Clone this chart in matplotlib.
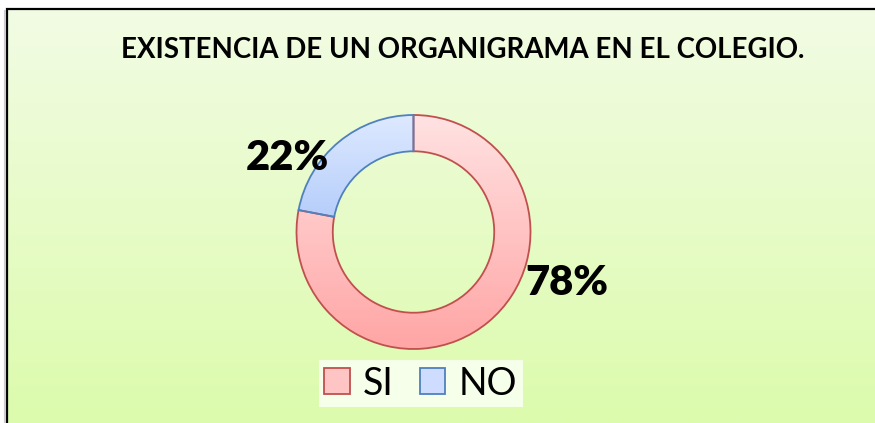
import numpy as np
import matplotlib
matplotlib.use("Agg")
import matplotlib.pyplot as plt
from matplotlib.patches import Patch
from matplotlib.colors import LinearSegmentedColormap

# ---- data ----
categories = ["SI", "NO"]
values = [78, 22]
label_texts = ["78%", "22%"]
title = "EXISTENCIA DE UN ORGANIGRAMA EN EL COLEGIO."

# ---- style ----
edge_colors = ["#c0504d", "#4f81bd"]
grad_top = ["#ffe2e2", "#dde9ff"]
grad_bot = ["#ffa5a5", "#b6cefb"]
W, H = 875, 423

fig = plt.figure(figsize=(W / 100, H / 100), dpi=100)
fig.patch.set_facecolor("white")
ax = fig.add_axes([0, 0, 1, 1])
ax.set_xlim(0, W)
ax.set_ylim(0, H)
ax.axis("off")

# chart area background gradient
bg = LinearSegmentedColormap.from_list("bg", ["#dcfcac", "#f2fbe4"])
grad = np.linspace(0, 1, 256).reshape(-1, 1)
ax.imshow(grad, cmap=bg, origin="lower", extent=[7, W, 0, H - 9],
          aspect="auto", zorder=0)
ax.plot([7, 7, W], [0, H - 9, H - 9], color="black", lw=1.6, zorder=1,
        solid_joinstyle="miter")
ax.plot([4.5, 4.5], [0, H - 11], color="#cccccc", lw=1.5, zorder=1)

# donut
cx, cy, R = 413.5, H - 232, 117
wedges, _ = ax.pie(values, startangle=90, counterclock=False,
                   center=(cx, cy), radius=R, frame=True,
                   wedgeprops=dict(width=R * 0.31, linewidth=1.3))
for i, w in enumerate(wedges):
    w.set_edgecolor(edge_colors[i])
    w.set_facecolor("none")
    w.set_zorder(4)
    cm = LinearSegmentedColormap.from_list("g%d" % i, [grad_bot[i], grad_top[i]])
    th1, th2 = w.theta1, w.theta2
    ang = np.radians(np.linspace(th1, th2, 200))
    ys = np.concatenate([cy + R * np.sin(ang), cy + (R * 0.69) * np.sin(ang)])
    y0, y1 = ys.min(), ys.max()
    im = ax.imshow(grad, cmap=cm, origin="lower",
                   extent=[cx - R - 2, cx + R + 2, y0, y1],
                   aspect="auto", zorder=3)
    im.set_clip_path(w)

ax.set_xlim(0, W)
ax.set_ylim(0, H)
ax.set_aspect("auto")
ax.axis("off")

# data labels
label_pos = [(567, H - 283), (287, H - 158)]
for t, (x, y) in zip(label_texts, label_pos):
    ax.text(x, y, t, ha="center", va="center", fontsize=30,
            fontweight="heavy", family="Lato", zorder=5)

# title
ax.text(463, H - 50, title, ha="center", va="center", fontsize=19.9,
        fontweight="bold", family="Lato", zorder=5)

# legend
handles = [Patch(facecolor=c, edgecolor=e, linewidth=1.3)
           for c, e in zip(["#ffc4c4", "#cddcff"], edge_colors)]
leg = fig.legend(handles, categories, loc="center",
                 bbox_to_anchor=(420.5 / W, 1 - 383.5 / H), ncol=2,
                 prop=dict(family="Lato", size=27), frameon=True,
                 fancybox=False, handlelength=0.68, handleheight=0.68,
                 handletextpad=0.35, columnspacing=0.7, borderpad=0.15,
                 borderaxespad=0)
leg.get_frame().set_facecolor("#f6ffea")
leg.get_frame().set_edgecolor("none")
leg.get_frame().set_alpha(1)

fig.savefig("out.png", dpi=100, facecolor=fig.get_facecolor())
